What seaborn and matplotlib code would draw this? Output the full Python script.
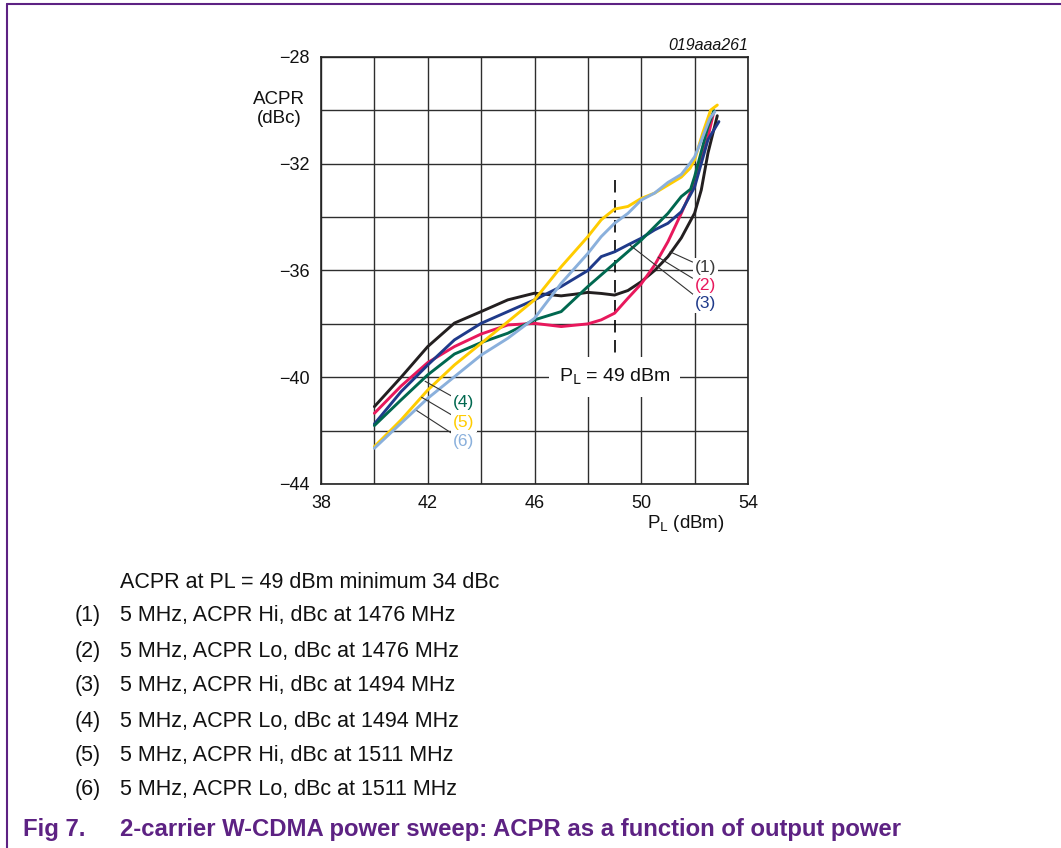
import numpy as np
import pandas as pd
import matplotlib
matplotlib.use("Agg")
import matplotlib.pyplot as plt
import seaborn as sns
from matplotlib.lines import Line2D

sns.set_theme(style="white")
plt.rcParams['font.family'] = ['Liberation Sans', 'DejaVu Sans']
plt.rcParams['axes.unicode_minus'] = True

# ---------------- data ----------------
pl_1 = [40, 41, 42, 43, 44, 45, 46, 47, 47.5, 48, 48.5, 49, 49.5, 50, 50.5, 51, 51.5, 52, 52.25, 52.5, 52.85]
acpr_1 = [-41.1, -40.0, -38.85, -37.97, -37.54, -37.1, -36.85, -36.95, -36.89, -36.82, -36.86, -36.92,
          -36.75, -36.42, -36.0, -35.48, -34.78, -33.85, -32.98, -31.6, -30.2]

pl_2 = [40, 41, 42, 43, 44, 45, 46, 47, 48, 48.5, 49, 49.5, 50, 50.5, 51, 51.5, 52, 52.5, 52.72]
acpr_2 = [-41.35, -40.33, -39.45, -38.85, -38.38, -38.04, -37.98, -38.1, -38.0, -37.85, -37.6, -37.04,
          -36.5, -35.8, -34.92, -33.86, -32.73, -30.99, -30.05]

pl_3 = [40, 41, 42, 43, 44, 45, 46, 47, 48, 48.5, 49, 49.5, 50, 50.5, 51, 51.5, 52, 52.5, 52.91]
acpr_3 = [-41.75, -40.54, -39.54, -38.6, -37.98, -37.54, -37.1, -36.6, -36.0, -35.48, -35.3, -35.04,
          -34.79, -34.48, -34.23, -33.8, -32.87, -31.1, -30.42]

pl_4 = [40, 41, 42, 43, 44, 45, 46, 47, 48, 49, 50, 51, 51.5, 51.85, 52.0, 52.5, 52.72]
acpr_4 = [-41.81, -40.85, -39.91, -39.13, -38.7, -38.35, -37.85, -37.54, -36.6, -35.73, -34.86, -33.86,
          -33.23, -32.95, -32.48, -30.61, -30.01]

pl_5 = [40, 41, 42, 43, 44, 45, 46, 47, 48, 48.5, 49, 49.5, 50, 50.5, 51, 51.5, 51.83, 52.0, 52.3, 52.6, 52.85]
acpr_5 = [-42.6, -41.6, -40.48, -39.54, -38.73, -37.92, -37.1, -35.86, -34.73, -34.1, -33.7, -33.6,
          -33.3, -33.1, -32.8, -32.5, -32.17, -31.86, -30.86, -29.99, -29.8]

pl_6 = [40, 41, 42, 43, 44, 45, 46, 47, 48, 48.5, 49, 49.5, 50, 50.5, 51, 51.5, 51.83, 52.0, 52.26, 52.57, 52.76]
acpr_6 = [-42.66, -41.72, -40.79, -39.98, -39.17, -38.54, -37.79, -36.48, -35.36, -34.73, -34.23, -33.86,
          -33.36, -33.1, -32.7, -32.4, -31.98, -31.74, -31.11, -30.3, -30.05]

curve_labels = ["(1)", "(2)", "(3)", "(4)", "(5)", "(6)"]
curve_colors = ["#231f20", "#e8185c", "#1f3a8a", "#00684f", "#ffcc00", "#8ab0dc"]
label_colors = ["#3a3a3a", "#e8185c", "#1f3a8a", "#00684f", "#ffcc00", "#8ab0dc"]

x_ticks = [38, 42, 46, 50, 54]
y_ticks = [-44, -40, -36, -32, -28]

legend_lines = [
    "5 MHz, ACPR Hi, dBc at 1476 MHz",
    "5 MHz, ACPR Lo, dBc at 1476 MHz",
    "5 MHz, ACPR Hi, dBc at 1494 MHz",
    "5 MHz, ACPR Lo, dBc at 1494 MHz",
    "5 MHz, ACPR Hi, dBc at 1511 MHz",
    "5 MHz, ACPR Lo, dBc at 1511 MHz",
]
note_text = "ACPR at PL = 49 dBm minimum 34 dBc"
caption_num = "Fig 7."
caption_text = "2-carrier W-CDMA power sweep: ACPR as a function of output power"
fig_id = "019aaa261"

pls = [pl_1, pl_2, pl_3, pl_4, pl_5, pl_6]
acprs = [acpr_1, acpr_2, acpr_3, acpr_4, acpr_5, acpr_6]
df = pd.concat([pd.DataFrame({"PL": p, "ACPR": a, "curve": n})
                for p, a, n in zip(pls, acprs, curve_labels)], ignore_index=True)

# ---------------- figure ----------------
W, H = 1061, 848
fig = plt.figure(figsize=(W / 100, H / 100), dpi=100)
fig.patch.set_facecolor("white")
ax = fig.add_axes([321 / W, 1 - 484 / H, 427 / W, 427 / H])

sns.lineplot(data=df, x="PL", y="ACPR", hue="curve", hue_order=curve_labels,
             palette=dict(zip(curve_labels, curve_colors)), sort=False, estimator=None,
             legend=False, lw=2.1, ax=ax, zorder=3)

ax.set_xlim(38, 54)
ax.set_ylim(-44, -28)
ax.set_xticks(x_ticks)
ax.set_yticks(y_ticks)
ax.set_xticks(np.arange(38, 55, 2), minor=True)
ax.set_yticks(np.arange(-44, -27, 2), minor=True)
ax.grid(which="both", color="#2e2e2e", lw=1.0)
ax.set_axisbelow(True)
ax.tick_params(which="both", length=0, labelsize=13, pad=8, colors="#111111")
for sp in ax.spines.values():
    sp.set_color("#222222")
    sp.set_linewidth(1.2)
ax.set_xlabel("")
ax.set_ylabel("")

# axis titles
ax.text(-0.098, 0.878, "ACPR\n(dBc)", transform=ax.transAxes, ha="center", va="center",
        fontsize=13.5, linespacing=1.1, color="#111111")
ax.text(0.855, -0.092, r"P$_\mathrm{L}$ (dBm)", transform=ax.transAxes, ha="center", va="center",
        fontsize=13.5, color="#111111")
ax.text(1.0, 1.026, fig_id, transform=ax.transAxes, ha="right", va="center",
        fontsize=11.5, style="italic", color="#111111")

# dashed marker at PL = 49 dBm
ax.plot([49, 49], [-32.6, -39.4], color="black", lw=1.2, ls=(0, (7.5, 4.5)), zorder=2)
ax.text(49, -40.0, r"P$_\mathrm{L}$ = 49 dBm", ha="center", va="center", fontsize=14,
        color="#111111", zorder=4,
        bbox=dict(facecolor="white", edgecolor="none", pad=7))

# curve labels with leader lines
label_pos = [(52.0, -35.9), (52.0, -36.58), (52.0, -37.25),
             (42.95, -40.96), (42.95, -41.68), (42.95, -42.39)]
leader_end = [(51.08, -35.3), (50.63, -35.5), (49.58, -35.05),
              (41.9, -40.15), (41.77, -40.75), (41.59, -41.25)]
for lab, col, (tx, ty), (ex, ey) in zip(curve_labels, label_colors, label_pos, leader_end):
    ax.annotate(lab, xy=(ex, ey), xytext=(tx, ty), ha="left", va="center", fontsize=12.5,
                color=col, zorder=5,
                bbox=dict(facecolor="white", edgecolor="none", pad=1.5),
                arrowprops=dict(arrowstyle="-", lw=0.8, color="#333333", shrinkA=0, shrinkB=0))

# notes below the chart (baseline aligned)
fs_notes = 15.5
base_off = 7.5
fig.text(120 / W, 1 - (580 + base_off) / H, note_text, ha="left", va="baseline",
         fontsize=fs_notes, color="#111111")
row_y = [614, 649, 684, 719, 753, 788]
for lab, txt, py in zip(curve_labels, legend_lines, row_y):
    fig.text(75 / W, 1 - (py + base_off) / H, lab, ha="left", va="baseline", fontsize=fs_notes, color="#111111")
    fig.text(120 / W, 1 - (py + base_off) / H, txt, ha="left", va="baseline", fontsize=fs_notes, color="#111111")

purple = "#5d2283"
fig.text(23 / W, 1 - (828 + 8) / H, caption_num, ha="left", va="baseline", fontsize=17.2,
         fontweight="bold", color=purple)
fig.text(120 / W, 1 - (828 + 8) / H, caption_text, ha="left", va="baseline", fontsize=17.2,
         fontweight="bold", color=purple)

# page frame lines
fig.add_artist(Line2D([7 / W, 7 / W], [0, 1 - 4 / H], transform=fig.transFigure, color=purple, lw=1.5))
fig.add_artist(Line2D([7 / W, 1], [1 - 4 / H, 1 - 4 / H], transform=fig.transFigure, color=purple, lw=1.5))

fig.savefig("out.png", dpi=100)
